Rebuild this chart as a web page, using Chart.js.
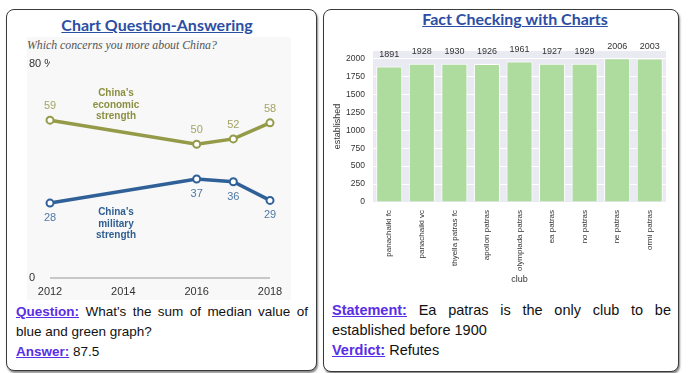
<!DOCTYPE html>
<html>
<head>
<meta charset="utf-8">
<script src="https://cdn.jsdelivr.net/npm/chart.js@4.4.1/dist/chart.umd.min.js"></script>
<style>
  body { margin: 0; width: 688px; height: 373px; background: #fff; position: relative; overflow: hidden; font-family: "Liberation Sans", Arial, sans-serif; }
  .panel { position: absolute; border: 1.5px solid #3a3a3a; border-radius: 8px; box-shadow: 1px 2px 2px #888; background: #fff; box-sizing: border-box; }
  .ttl { position: absolute; font-family: Lato, sans-serif; font-weight: 700; font-size: 16px; color: #2c4ea3; text-decoration: underline; white-space: nowrap; transform: translateX(-50%); }
  .txt { position: absolute; color: #111; }
  .txt div { white-space: nowrap; }
  .txt .j { text-align: justify; text-align-last: justify; white-space: normal; }
  .lbl { color: #5a2ee6; font-weight: bold; text-decoration: underline; }
  #imgL { position: absolute; left: 27px; top: 37px; width: 264px; height: 263px; background: #f8f8f8; }
  #sub { position: absolute; left: 27px; top: 38px; font-family: "Liberation Serif", serif; font-style: italic; font-size: 11.8px; color: #555; white-space: nowrap; }
  canvas { position: absolute; }
</style>
</head>
<body>
<div class="panel" style="left:6px;top:9px;width:311px;height:362px;"></div>
<div class="panel" style="left:323px;top:9px;width:356px;height:363px;"></div>

<div class="ttl" style="left:157px;top:15px;">Chart Question-Answering</div>
<div class="ttl" style="left:515px;top:9px;">Fact Checking with Charts</div>

<div id="imgL"></div>
<div id="sub">Which concerns you more about China?</div>
<canvas id="lineChart" style="left:27px;top:37px;" width="265" height="263"></canvas>
<canvas id="barChart" style="left:330px;top:36px;" width="344" height="254"></canvas>

<div class="txt" style="left:16px;top:302px;width:292px;font-size:13.5px;line-height:20px;">
  <div class="j"><span class="lbl">Question:</span> What's the sum of median value of</div>
  <div>blue and green graph?</div>
  <div><span class="lbl">Answer:</span> 87.5</div>
</div>
<div class="txt" style="left:332px;top:300px;width:339px;font-size:14.5px;line-height:20px;">
  <div class="j"><span class="lbl">Statement:</span> Ea patras is the only club to be</div>
  <div>established before 1900</div>
  <div><span class="lbl">Verdict:</span> Refutes</div>
</div>

<script>
// left chart data
const years = [2012, 2016, 2017, 2018];
const economic = [59, 50, 52, 58];
const military = [28, 37, 36, 29];

// right chart data
const clubs = ['panachaiki fc', 'panachaiki vc', 'thyella patras fc', 'apollon patras', 'olympiada patras', 'ea patras', 'no patras', 'ne patras', 'ormi patras'];
const established = [1891, 1928, 1930, 1926, 1961, 1927, 1929, 2006, 2003];
const yTicks = [0, 250, 500, 750, 1000, 1250, 1500, 1750, 2000];

const GREEN = '#949a48';
const BLUE = '#2f6198';

const lineLabels = {
  id: 'lineLabels',
  afterDatasetsDraw(chart) {
    const c = chart.ctx;
    c.save();
    c.font = '11px "Liberation Sans", Arial';
    c.textAlign = 'center';
    c.textBaseline = 'middle';
    chart.data.datasets.forEach((ds, i) => {
      const meta = chart.getDatasetMeta(i);
      c.fillStyle = i === 0 ? '#a2a562' : '#4e79a6';
      meta.data.forEach((pt, j) => {
        c.fillText(ds.data[j].y, pt.x, pt.y + (i === 0 ? -14 : 15));
      });
    });
    const xs = chart.scales.x, ys = chart.scales.y;
    c.font = 'bold 10px "Liberation Sans", Arial';
    const notes = [
      { lines: ["China's", 'economic', 'strength'], x: 2013.8, y: 69, color: '#8b9040' },
      { lines: ["China's", 'military', 'strength'], x: 2013.8, y: 24.5, color: '#2f5f91' }
    ];
    notes.forEach(n => {
      c.fillStyle = n.color;
      n.lines.forEach((t, k) => c.fillText(t, xs.getPixelForValue(n.x), ys.getPixelForValue(n.y) + k * 11.5));
    });
    c.restore();
  }
};

new Chart(document.getElementById('lineChart'), {
  type: 'line',
  data: {
    datasets: [
      { data: years.map((x, i) => ({ x: x, y: economic[i] })), borderColor: GREEN, borderWidth: 3.5,
        pointBackgroundColor: '#fff', pointBorderColor: GREEN, pointBorderWidth: 2, pointRadius: 3.5, clip: false },
      { data: years.map((x, i) => ({ x: x, y: military[i] })), borderColor: BLUE, borderWidth: 3.5,
        pointBackgroundColor: '#fff', pointBorderColor: BLUE, pointBorderWidth: 2, pointRadius: 3.5, clip: false }
    ]
  },
  options: {
    responsive: false,
    animation: false,
    layout: { padding: { left: 2, right: 22, top: 27, bottom: 0 } },
    plugins: { legend: { display: false }, tooltip: { enabled: false } },
    scales: {
      x: {
        type: 'linear', min: 2012, max: 2018,
        ticks: { stepSize: 2, color: '#333', font: { size: 11 }, padding: 7, callback: v => String(v) },
        grid: { display: false, drawTicks: false },
        border: { display: false },
        afterFit: s => { s.height = 22; }
      },
      y: {
        min: 0, max: 80,
        afterBuildTicks: s => { s.ticks = [{ value: 0 }, { value: 80 }]; },
        ticks: { color: '#333', font: { size: 11 }, crossAlign: 'far', callback: v => v === 80 ? '80 %' : String(v) },
        grid: { drawTicks: false, lineWidth: 2, color: ctx => ctx.tick && ctx.tick.value === 0 ? '#c8c8c8' : 'rgba(0,0,0,0)' },
        border: { display: false },
        afterFit: s => { s.width = 21; }
      }
    }
  },
  plugins: [lineLabels]
});

const barDecor = {
  id: 'barDecor',
  beforeDraw(chart) {
    const a = chart.chartArea, c = chart.ctx;
    c.save();
    c.fillStyle = '#eaeaf2';
    c.fillRect(a.left, a.top, a.right - a.left, a.bottom - a.top);
    c.restore();
  },
  afterDatasetsDraw(chart) {
    const c = chart.ctx;
    c.save();
    c.font = '9px "Liberation Sans", Arial';
    c.fillStyle = '#333';
    c.textAlign = 'center';
    c.textBaseline = 'middle';
    chart.getDatasetMeta(0).data.forEach((b, i) => c.fillText(established[i], b.x, b.y - 12));
    c.restore();
  }
};

new Chart(document.getElementById('barChart'), {
  type: 'bar',
  data: {
    labels: clubs,
    datasets: [{ data: established, backgroundColor: '#addc9e', borderColor: '#ffffff', borderWidth: 1,
      categoryPercentage: 1, barPercentage: 0.8 }]
  },
  options: {
    responsive: false,
    animation: false,
    layout: { padding: { left: 0, right: 8, top: 15, bottom: 0 } },
    plugins: { legend: { display: false }, tooltip: { enabled: false } },
    scales: {
      x: {
        ticks: { color: '#333', font: { size: 8 }, minRotation: 90, maxRotation: 90, padding: 8, autoSkip: false },
        grid: { display: false, drawTicks: false },
        border: { display: false },
        title: { display: true, text: 'club', color: '#333', font: { size: 9 }, padding: { top: 0, bottom: 5 } },
        afterFit: s => { s.height = 88; }
      },
      y: {
        min: 0, max: 2106.3,
        afterBuildTicks: s => { s.ticks = yTicks.map(v => ({ value: v })); },
        ticks: { color: '#333', font: { size: 8.5 }, padding: 8, callback: v => String(v) },
        grid: { color: '#ffffff', lineWidth: 1, drawTicks: false },
        border: { display: false },
        title: { display: true, text: 'established', color: '#333', font: { size: 9 }, padding: { top: 2, bottom: 0 } },
        afterFit: s => { s.width = 43; }
      }
    }
  },
  plugins: [barDecor]
});
</script>
</body>
</html>
